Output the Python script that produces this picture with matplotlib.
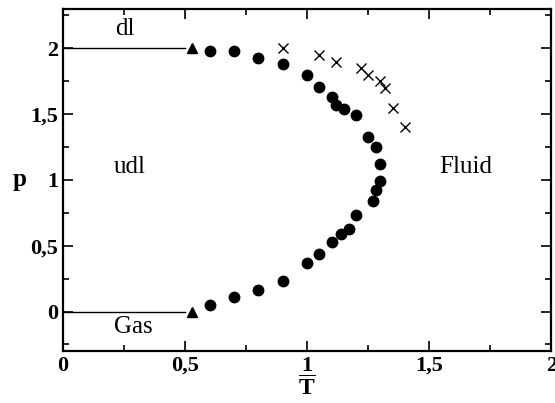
import matplotlib
matplotlib.use("Agg")
import matplotlib.pyplot as plt
from matplotlib.ticker import MultipleLocator, FuncFormatter

plt.rcParams['font.family'] = ['Liberation Serif', 'DejaVu Serif']
plt.rcParams['mathtext.fontset'] = 'custom'
plt.rcParams['mathtext.rm'] = 'Liberation Serif'
plt.rcParams['mathtext.bf'] = 'Liberation Serif:bold'

# coexistence boundary (circles)
circ_T = [0.60, 0.70, 0.80, 0.90, 1.00, 1.05, 1.10, 1.12, 1.15, 1.20, 1.25, 1.28, 1.30,
          1.30, 1.28, 1.27, 1.20, 1.17, 1.14, 1.10, 1.05, 1.00, 0.90, 0.80, 0.70, 0.60]
circ_p = [1.98, 1.98, 1.93, 1.88, 1.80, 1.71, 1.63, 1.57, 1.54, 1.49, 1.33, 1.25, 1.12,
          0.99, 0.92, 0.84, 0.73, 0.63, 0.59, 0.53, 0.44, 0.37, 0.23, 0.16, 0.11, 0.05]

# crosses
cross_T = [0.90, 1.05, 1.12, 1.22, 1.25, 1.30, 1.32, 1.35, 1.40]
cross_p = [2.00, 1.95, 1.90, 1.85, 1.80, 1.75, 1.70, 1.55, 1.40]

# triple points and ground-state lines
tri_T = [0.53, 0.53]
tri_p = [2.0, 0.0]
line_T = [0.0, 0.5]
line_p_top = [2.0, 2.0]
line_p_bot = [0.0, 0.0]

fig = plt.figure(figsize=(5.55, 4.03), dpi=100)
ax = fig.add_axes([0.1135, 0.129, 0.88, 0.849])

ax.plot(line_T, line_p_top, color='black', lw=1)
ax.plot(line_T, line_p_bot, color='black', lw=1)
ax.plot(circ_T, circ_p, 'o', color='black', ms=7.5, ls='none')
ax.plot(cross_T, cross_p, 'x', color='black', ms=7, mew=1, ls='none')
ax.plot(tri_T, tri_p, '^', color='black', ms=6.5, ls='none')

ax.text(0.255, 2.15, 'dl', fontsize=18, ha='center', va='center')
ax.text(0.275, 1.10, 'udl', fontsize=18, ha='center', va='center')
ax.text(1.65, 1.10, 'Fluid', fontsize=18, ha='center', va='center')
ax.text(0.29, -0.12, 'Gas', fontsize=18, ha='center', va='center')

ax.set_xlim(0, 2)
ax.set_ylim(-0.3, 2.3)
ax.xaxis.set_major_locator(MultipleLocator(0.5))
ax.xaxis.set_minor_locator(MultipleLocator(0.25))
ax.yaxis.set_major_locator(MultipleLocator(0.5))
ax.yaxis.set_minor_locator(MultipleLocator(0.25))
fmt = FuncFormatter(lambda v, pos: ('%g' % v).replace('.', ','))
ax.xaxis.set_major_formatter(fmt)
ax.yaxis.set_major_formatter(fmt)
ax.tick_params(which='both', direction='in', top=True, right=True, width=1.2, labelsize=16)
ax.tick_params(which='major', length=7)
ax.tick_params(which='minor', length=4)
for lab in ax.get_xticklabels() + ax.get_yticklabels():
    lab.set_fontweight('bold')
for s in ax.spines.values():
    s.set_linewidth(1.6)

ax.set_xlabel(r'$\mathbf{\overline{T}}$', fontsize=17, labelpad=0)
ax.set_ylabel('p', fontsize=18, fontweight='bold', rotation=0, labelpad=8, va='center')

fig.savefig('out.png', dpi=100)
